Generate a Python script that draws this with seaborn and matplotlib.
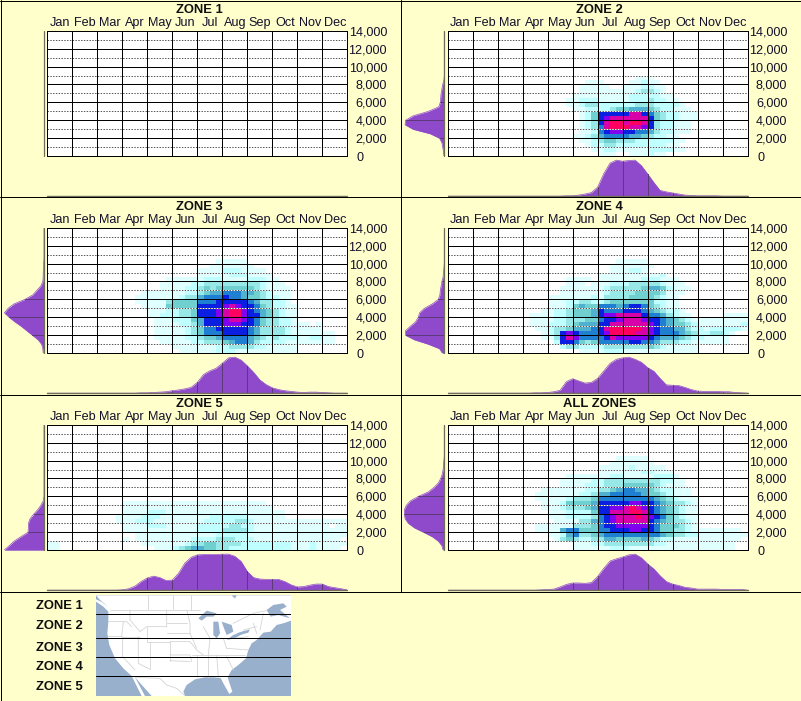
import numpy as np
import pandas as pd
import seaborn as sns
import matplotlib
matplotlib.use("Agg")
import matplotlib.pyplot as plt
from matplotlib.colors import ListedColormap
from matplotlib.patches import Polygon

sns.set_theme(style="white")
plt.rcParams["font.family"] = ["Liberation Sans", "DejaVu Sans"]

MONTHS = ["Jan", "Feb", "Mar", "Apr", "May", "Jun", "Jul", "Aug", "Sep", "Oct", "Nov", "Dec"]
ELEV_TICKS = [0, 2000, 4000, 6000, 8000, 10000, 12000, 14000]
ELEV_LABELS = ["0", "2,000", "4,000", "6,000", "8,000", "10,000", "12,000", "14,000"]
ZONE_NAMES = ["ZONE 1", "ZONE 2", "ZONE 3", "ZONE 4", "ZONE 5", "ALL ZONES"]

# heat levels 0-a, quarter-month columns, 500 ft rows (row 0 = top).
# row -> (levels ending at the end of June, levels starting at July)
HEAT_ZONE2 = {
    10: ("", "000000111"),
    11: ("11", "1000011211"),
    12: ("111", "11001112211"),
    13: ("111", "11111123321"),
    14: ("1111", "111112222211"),
    15: ("11222", "1111122232211"),
    16: ("11233", "22222233322221"),
    17: ("1122", "223445554322111"),
    18: ("124", "777779976432 2111".replace(" ", "")),
    19: ("124", "7899999974322111"),
    20: ("123", "79aa9aa9732 2111".replace(" ", "")),
    21: ("123", "69aaa998732 2111".replace(" ", "")),
    22: ("112", "678877665322111"),
    23: ("1123", "5666655432211"),
    24: ("112", "34433322222211"),
    25: ("12", "2332222222211"),
    26: ("1", "12211111222211"),
    27: ("", "11100111211"),
}
HEAT_ZONE3 = {
    7: ("", "00011111"),
    8: ("", "001111111"),
    9: ("", "11112221111"),
    10: ("", "111112221111"),
    11: ("11111", "1222111122211"),
    12: ("111112", "23333333332111"),
    13: ("111122", "343444444321111"),
    14: ("111111122", "345566655432111"),
    15: ("1111111233", "566676654432211"),
    16: ("1111134444", "666777776533221"),
    17: ("111144444", "7777898776432211"),
    18: ("11122334", "7778 9aa876543211".replace(" ", "")),
    19: ("11222334", "7778 9aa877543211".replace(" ", "")),
    20: ("1112224", "5777899876433221"),
    21: ("1111223", "57778887764332211 101".replace(" ", "")),
    22: ("1111123", "46677777653333211 111".replace(" ", "")),
    23: ("1111123", "46667777653333211 11111".replace(" ", "")),
    24: ("1111122", "3445666654323222 112211".replace(" ", "")),
    25: ("111112", "233345665322221111 1111".replace(" ", "")),
    26: ("1111", "1112233332211111"),
    27: ("111", "1112221111111111"),
}
HEAT_ZONE4 = {
    7: ("", "00011111"),
    8: ("", "001111111"),
    9: ("", "00111221"),
    10: ("", "11111111112"),
    11: ("11110", "1111111222111"),
    12: ("11101", "11222333332111"),
    13: ("111111", "123333345542111"),
    14: ("111111", "12333344443111"),
    15: ("11111112", "1333344443211"),
    16: ("11122332", "2344444442211"),
    17: ("11124544", "6665677643211"),
    18: ("112234445", "76667776543221"),
    19: ("11112234445", "788999976653211000001111"),
    20: ("11112233344", "677899987765432111111111"),
    21: ("11122234555", "779999998765443211111112"),
    22: ("1123345556", "79aaaaa98766553221222221"),
    23: ("123787666", "78aaaa9987666543223321"),
    24: ("113798666", "679888887655543221111"),
    25: ("2776434", "666667766533322111111"),
    26: ("233222", "2333333343211111"),
    27: ("111", "1222111111111111"),
}
HEAT_ZONE5 = {
    17: ("111111111111", "11111111111"),
    18: ("111111111111", "111111111111"),
    19: ("111122211111", "11111111111111"),
    20: ("1111222111111", "11222222111111"),
    21: ("1112221111111", "122222332111111111111111"),
    22: ("111122211111", "222223322111111111111011"),
    23: ("111111111111", "222233332111111111111111"),
    24: ("1111111111", "111222221111111111111111"),
    25: ("101111111112", "22233322211111111111111"),
    26: ("11" + "0000000000000" + "111111123", "344333322222222111211111"),
    27: ("11" + "0000000000000" + "001112345", "544332222222222111211110"),
}
HEAT_ALL = {
    7: ("", "00011111"),
    8: ("", "001111111"),
    9: ("", "11111211111"),
    10: ("", "111111122111"),
    11: ("11111", "1122111112221"),
    12: ("111112", "23333333332211"),
    13: ("111122", "23334444432111"),
    14: ("111111122", "334566554322111"),
    15: ("1111111223", "556666654432111"),
    16: ("1111123334", "6666666665432111"),
    17: ("111244445", "7777788776543321"),
    18: ("111233345", "778 89a987654321 1".replace(" ", "")),
    19: ("11122224", "7799 9aa976543211".replace(" ", "")),
    20: ("11122223", "67899 9a987643211".replace(" ", "")),
    21: ("1111335", "6789999976543321"),
    22: ("1111113334", "6778888876444321"),
    23: ("1111566444", "66777887764433211111111"),
    24: ("112563 34".replace(" ", "") + "4"[:0], "566666666654332211111111"),
    25: ("1343223", "35544445432211111111111"),
    26: ("1112", "2333333332211111111111"),
    27: ("1111", "1122211111111111111111"),
}

# marginal profile heights, 0-100 of each panel's peak, every quarter month
TOP_ZONE2 = [0]*19 + [1, 1, 3, 6, 10, 25, 63, 92, 100, 97, 99, 100, 85, 62, 38, 16, 12, 9, 6, 3, 2, 1, 1, 1, 1, 0, 0, 0, 0, 0]
TOP_ZONE3 = [0]*14 + [0, 1, 1, 2, 3, 4, 7, 9, 12, 16, 30, 52, 62, 69, 83, 98, 100, 92, 76, 58, 37, 24, 15, 10, 7, 5, 3, 2, 3, 3, 2, 1, 0, 0, 0]
TOP_ZONE4 = [0]*14 + [1, 1, 2, 4, 8, 32, 40, 34, 28, 30, 41, 62, 83, 94, 98, 100, 94, 86, 71, 61, 41, 23, 22, 21, 16, 10, 6, 5, 5, 5, 4, 4, 2, 1, 0]
TOP_ZONE5 = [0]*12 + [1, 4, 11, 24, 34, 39, 35, 27, 28, 47, 75, 91, 98, 99, 99, 99, 100, 100, 94, 80, 52, 35, 31, 30, 30, 30, 24, 15, 9, 10, 14, 17, 17, 10, 7, 4, 1]
TOP_ALL = [0]*15 + [1, 2, 3, 9, 16, 20, 20, 19, 21, 38, 61, 81, 87, 92, 98, 100, 90, 73, 59, 40, 24, 17, 13, 8, 6, 3, 3, 3, 3, 2, 2, 2, 2, 0]

# width profiles, 0-100 of peak, every 500 ft from 14,000 down to 0
SIDE_ZONE2 = [0]*11 + [1, 4, 6, 8, 9, 10, 14, 40, 78, 97, 98, 78, 35, 12, 6, 4, 2, 1]
SIDE_ZONE3 = [0]*8 + [1, 1, 2, 2, 3, 8, 18, 28, 48, 75, 90, 99, 87, 73, 57, 43, 29, 15, 6, 3, 2]
SIDE_ZONE4 = [0]*9 + [1, 2, 3, 6, 8, 10, 11, 15, 30, 50, 62, 65, 72, 85, 97, 97, 75, 40, 12, 5]
SIDE_ZONE5 = [0]*17 + [2, 8, 16, 26, 35, 39, 39, 40, 58, 75, 87, 100]
SIDE_ALL = [0]*8 + [1, 2, 3, 5, 9, 15, 26, 40, 65, 85, 95, 100, 100, 98, 90, 75, 52, 30, 15, 6, 3]

HEATS = [{}, HEAT_ZONE2, HEAT_ZONE3, HEAT_ZONE4, HEAT_ZONE5, HEAT_ALL]
TOPS = [None, TOP_ZONE2, TOP_ZONE3, TOP_ZONE4, TOP_ZONE5, TOP_ALL]
SIDES = [None, SIDE_ZONE2, SIDE_ZONE3, SIDE_ZONE4, SIDE_ZONE5, SIDE_ALL]

# locator map outlines
MAP_LAND = [(288, 16), (873, 16), (873, 92), (850, 100), (830, 105), (812, 125), (790, 128), (770, 150), (755, 160),
            (745, 180), (738, 205), (715, 225), (695, 240), (683, 262), (692, 290), (697, 305), (688, 312), (670, 280),
            (662, 264), (640, 262), (615, 262), (585, 268), (560, 285), (550, 305), (555, 318), (455, 318), (405, 262),
            (435, 318), (425, 318), (395, 258), (370, 235), (345, 205), (328, 165), (322, 130), (325, 95), (325, 65),
            (310, 50), (288, 35)]
MAP_WATER = [
    [(800, 60), (820, 45), (850, 40), (860, 50), (840, 60), (870, 85), (835, 75), (812, 80)],
    [(695, 16), (710, 16), (705, 26)],
    [(595, 85), (620, 62), (650, 70), (640, 80), (620, 80), (605, 92)],
    [(640, 95), (655, 95), (660, 130), (650, 145), (640, 135)],
    [(665, 95), (695, 105), (700, 125), (680, 135), (672, 115)],
    [(680, 150), (700, 135), (735, 122), (730, 130), (705, 145)],
    [(710, 130), (750, 118), (745, 128), (720, 135)],
    [(288, 16), (300, 30), (325, 50), (305, 36), (288, 28)],
]
MAP_BORDERS = [
    [(330, 60), (600, 60)], [(445, 16), (445, 58)], [(520, 16), (520, 58)], [(572, 16), (572, 60)],
    [(390, 60), (390, 90), (420, 125), (440, 110), (500, 110), (500, 60)], [(440, 110), (440, 155), (510, 155), (510, 212)],
    [(325, 95), (380, 95), (395, 110)], [(370, 95), (365, 140), (325, 140)], [(365, 140), (420, 140)],
    [(368, 140), (368, 200), (405, 240)], [(415, 140), (415, 220), (450, 238)], [(450, 155), (450, 238)],
    [(510, 195), (570, 195), (575, 215)], [(500, 100), (560, 100)], [(500, 130), (570, 130)],
    [(510, 155), (570, 155), (590, 180), (610, 195)], [(560, 60), (570, 100), (570, 130), (590, 175)],
    [(610, 110), (630, 145), (625, 195)], [(575, 195), (735, 195)], [(590, 195), (590, 262)],
    [(625, 195), (625, 262)], [(650, 195), (655, 262)], [(680, 200), (700, 240)],
    [(630, 145), (670, 145), (680, 175)], [(700, 145), (745, 140)], [(680, 175), (745, 180)],
    [(760, 100), (770, 130)], [(790, 70), (780, 120)], [(730, 120), (770, 110)],
    [(405, 262), (480, 265), (500, 285), (530, 295), (555, 318)], [(510, 212), (570, 215)],
    [(700, 100), (760, 70), (800, 62)],
]
MAP_ZONE_LINES = [71, 143, 200, 259]
MAP_LABEL_Y = [605, 625, 647, 666, 686]

W, H = 801, 701
BG = "#ffffcc"
PURPLE = "#8f49cb"
RIDGE = "#5c3a7a"
AXIS_GRAY = "#6e6e5a"
TXT = "#14102a"
LEVELS = ["#ffffff", "#e0ffff", "#bfffff", "#98e8e8", "#70d0d0", "#50b0d0", "#1f7fd0",
          "#0a1fe0", "#8000f0", "#d800a8", "#ff0060"]
PX = 0.72


def px_axes(fig, x, y, w, h, **kw):
    return fig.add_axes([x / W, 1 - (y + h) / H, w / W, h / H], **kw)


def heat_matrix(rows):
    m = np.zeros((28, 48))
    for k, (left, right) in rows.items():
        for i, ch in enumerate(left):
            m[k, 24 - len(left) + i] = int(ch, 11)
        for i, ch in enumerate(right):
            m[k, 24 + i] = int(ch, 11)
    return m


def pad(values, n):
    return (list(values) + [0] * n)[:n]


fig = plt.figure(figsize=(W / 100, H / 100), dpi=100, facecolor=BG)

for idx, name in enumerate(ZONE_NAMES):
    col, row = idx % 2, idx // 2
    ox, oy = 47.3 + 400.3 * col, 30.7 + 197 * row
    pw, ph = 300, 125.5

    hax = px_axes(fig, ox, oy, pw, ph, zorder=1)
    frame = pd.DataFrame(heat_matrix(HEATS[idx]))
    sns.heatmap(frame, ax=hax, cmap=ListedColormap(LEVELS), vmin=-0.5, vmax=10.5, cbar=False,
                xticklabels=False, yticklabels=False, linewidths=0)
    hax.set_xlabel("")
    hax.set_ylabel("")

    ax = px_axes(fig, ox, oy, pw, ph, zorder=2)
    ax.patch.set_alpha(0)
    ax.set_xlim(0, 12)
    ax.set_ylim(0, 14000)
    for v in range(1000, 14000, 2000):
        ax.axhline(v, color="white", lw=PX, zorder=1)
        ax.axhline(v, color="#555555", lw=PX, ls=(0, (1.4, 1.4)), zorder=1.5)
    for v in range(2000, 14000, 2000):
        ax.axhline(v, color="black", lw=PX, zorder=2)
    for m in range(1, 12):
        ax.axvline(m, color="black", lw=PX, zorder=2)
    for s in ax.spines.values():
        s.set_color("black")
        s.set_linewidth(PX)
    ax.xaxis.tick_top()
    ax.set_xticks(np.arange(12) + 0.5, MONTHS)
    ax.yaxis.tick_right()
    ax.set_yticks(ELEV_TICKS, ELEV_LABELS)
    ax.tick_params(axis="x", length=0, pad=1.5, labelsize=9.1, labelcolor=TXT)
    ax.tick_params(axis="y", length=0, pad=28.6, labelsize=9.1, labelcolor=TXT)
    for tick in ax.yaxis.get_major_ticks():
        tick.label2.set_horizontalalignment("right")
    zero = ax.yaxis.get_major_ticks()[0]
    zero.set_pad(6.9)
    zero.label2.set_horizontalalignment("left")

    fig.text((ox + 151.7) / W, 1 - (oy - 20.9) / H, name, ha="center", va="center",
             fontsize=9.4, fontweight="bold", color="#101010")

    # month profile under the grid
    tax = px_axes(fig, ox, oy + 128, pw, 37.5, zorder=1)
    tax.set_xlim(0, 12)
    tax.set_ylim(0, 104)
    tax.axis("off")
    if TOPS[idx] is not None:
        tx = np.arange(49) / 4
        ty = np.array(pad(TOPS[idx], 49), dtype=float)
        tax.fill_between(tx, 0, ty, color=PURPLE, lw=0)
        sns.lineplot(x=tx, y=ty, ax=tax, color=PURPLE, lw=0.5)
        for m in range(1, 12):
            h = np.interp(m, tx, ty)
            if h > 3:
                tax.plot([m, m], [0, h], color=RIDGE, lw=PX)
        tax.set_xlabel("")
        tax.set_ylabel("")
        tax.axis("off")
    fig.add_artist(plt.Line2D([(ox) / W, (ox + 300) / W], [1 - (oy + 165.3) / H] * 2,
                              color=AXIS_GRAY, lw=1.0))

    # elevation profile left of the grid
    sax = px_axes(fig, ox - 43.3, oy, 40, ph, zorder=1)
    sax.set_ylim(0, 14000)
    sax.set_xlim(100, 0)
    sax.axis("off")
    if SIDES[idx] is not None:
        sy = 14000 - np.arange(29) * 500
        sx = np.array(pad(SIDES[idx], 29), dtype=float)
        sax.fill_betweenx(sy, 0, sx, color=PURPLE, lw=0)
        sns.lineplot(x=sx, y=sy, ax=sax, color=PURPLE, lw=0.5, orient="y", sort=False)
        for v in range(2000, 14000, 2000):
            w = np.interp(v, sy[::-1], sx[::-1])
            if w > 5:
                sax.plot([0, w], [v, v], color=RIDGE, lw=PX)
        sax.set_xlim(100, 0)
        sax.set_xlabel("")
        sax.set_ylabel("")
        sax.axis("off")
    fig.add_artist(plt.Line2D([(ox - 3.3) / W] * 2, [1 - oy / H, 1 - (oy + ph) / H],
                              color=AXIS_GRAY, lw=0.9))

# panel frame
for y in [0.5, 197.5, 394.5, 591.5, 700.5]:
    fig.add_artist(plt.Line2D([0, 1], [1 - y / H] * 2, color="black", lw=PX))
for x, y1 in [(0.5, 701), (400.5, 591.5), (800.5, 701)]:
    fig.add_artist(plt.Line2D([x / W] * 2, [1, 1 - y1 / H], color="black", lw=PX))

# locator map
max_ = px_axes(fig, 96, 595.3, 195, 100.7, zorder=1)
max_.set_xlim(288, 873)
max_.set_ylim(318, 16)
max_.set_facecolor("#98b0cc")
max_.set_xticks([])
max_.set_yticks([])
for s in max_.spines.values():
    s.set_visible(False)
max_.add_patch(Polygon(MAP_LAND, closed=True, fc="white", ec="none"))
for pts in MAP_BORDERS:
    xs, ys = zip(*pts)
    max_.plot(xs, ys, color="#d4d4d4", lw=0.6, clip_on=True)
for pts in MAP_WATER:
    max_.add_patch(Polygon(pts, closed=True, fc="#98b0cc", ec="none"))
for y in MAP_ZONE_LINES:
    max_.axhline(y, color="black", lw=PX)
for name, y in zip(ZONE_NAMES[:5], MAP_LABEL_Y):
    fig.text(36 / W, 1 - (y + 0.7) / H, name, ha="left", va="center", fontsize=9.4, fontweight="bold", color="#101010")

fig.savefig("out.png", dpi=100, facecolor=BG)
